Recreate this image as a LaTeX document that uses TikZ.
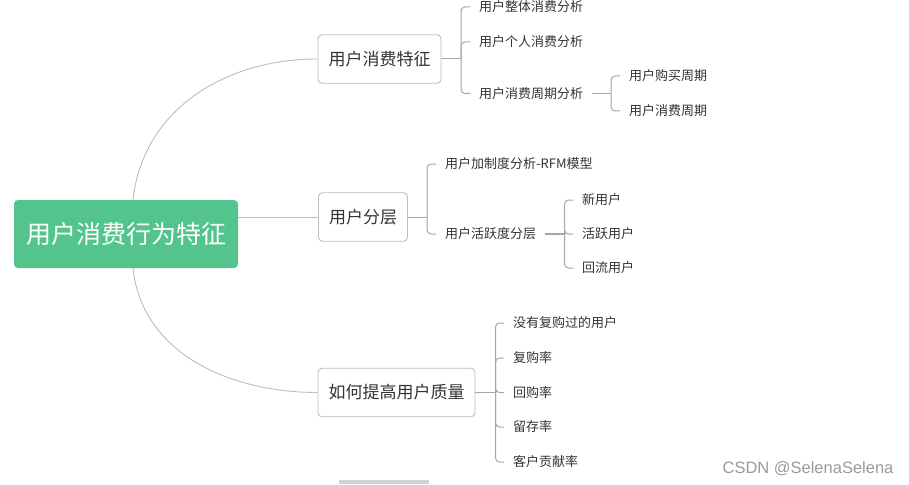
\documentclass[tikz,border=0pt]{standalone}
\usepackage{fontspec}
\setmainfont{Noto Sans CJK SC}
\newfontfamily\markfont{Liberation Sans}
\usetikzlibrary{calc}
\definecolor{rootgreen}{HTML}{52C48C}
\definecolor{boxline}{HTML}{BDBDBD}
\definecolor{linkgray}{HTML}{A6A6A6}
\definecolor{txtgray}{HTML}{333333}
\definecolor{markgray}{HTML}{9A9A9A}

\begin{document}
\begin{tikzpicture}[
    x=1pt, y=-1pt,
    every node/.style={text=txtgray},
    root/.style={rectangle, fill=rootgreen, rounded corners=4pt, text=white, font=\fontsize{25}{30}\selectfont, minimum width=224pt, minimum height=68pt, inner sep=0pt},
    topic/.style={rectangle, draw=boxline, line width=0.9pt, rounded corners=4pt, font=\fontsize{17}{20}\selectfont, minimum height=48.5pt, inner xsep=10.5pt},
    leaf/.style={anchor=west, font=\fontsize{13}{15}\selectfont, inner xsep=9pt, inner ysep=1pt},
    trunk/.style={draw=boxline, line width=0.9pt},
    link/.style={draw=linkgray, line width=1pt, rounded corners=4pt},
    thick link/.style={link, line width=1.6pt}
  ]
  \useasboundingbox (0,0) rectangle (909,484);

  % main topics
  \node[root] (root) at (126,234) {用户消费行为特征};
  \node[topic] (b1) at (379.5,59) {用户消费特征};
  \node[topic] (b2) at (363,217) {用户分层};
  \node[topic] (b3) at (396.5,392.5) {如何提高用户质量};

  \draw[trunk] ([xshift=7pt]root.north) .. controls +(10,-90) and +(-93,0) .. (b1.west);
  \draw[trunk] (b2.west -| root.east) -- (b2.west);
  \draw[trunk] ([xshift=7pt]root.south) .. controls +(9,85) and +(-88,0) .. (b3.west);

  % consumption features
  \coordinate (j1) at (461,59);
  \node[leaf] (c11) at (470,7) {用户整体消费分析};
  \node[leaf] (c12) at (470,42) {用户个人消费分析};
  \node[leaf] (c13) at (470,93.5) {用户消费周期分析};
  \draw[link] (b1.east) -- (j1);
  \foreach \c in {c11,c12,c13}
    \draw[link] (j1) |- (\c.west);

  \coordinate (j13) at (611,93.5);
  \node[leaf] (c131) at (620,76) {用户购买周期};
  \node[leaf] (c132) at (620,111) {用户消费周期};
  \draw[link] (c13.east) -- (j13);
  \foreach \c in {c131,c132}
    \draw[link] (j13) |- (\c.west);

  % user layers
  \coordinate (j2) at (427,217);
  \node[leaf] (c21) at (436,164) {用户加制度分析-RFM模型};
  \node[leaf] (c22) at (436,234) {用户活跃度分层};
  \draw[link] (b2.east) -- (j2);
  \foreach \c in {c21,c22}
    \draw[link] (j2) |- (\c.west);

  \coordinate (j22) at (564.5,234);
  \node[leaf] (c221) at (573,200) {新用户};
  \node[leaf] (c222) at (573,234) {活跃用户};
  \node[leaf] (c223) at (573,268) {回流用户};
  \draw[thick link] (c22.east) -- (j22);
  \foreach \c in {c221,c222,c223}
    \draw[link] (j22) |- (\c.west);

  % user quality
  \coordinate (j3) at (495.5,392.5);
  \node[leaf] (c31) at (504,323) {没有复购过的用户};
  \node[leaf] (c32) at (504,358) {复购率};
  \node[leaf] (c33) at (504,392.5) {回购率};
  \node[leaf] (c34) at (504,427) {留存率};
  \node[leaf] (c35) at (504,462) {客户贡献率};
  \draw[thick link] (b3.east) -- (j3);
  \foreach \c in {c31,c32,c33,c34,c35}
    \draw[link] (j3) |- (\c.west);

  % watermark and scroll bar
  \node[font=\markfont\fontsize{16.5}{18}\selectfont, text=markgray] (mark) at (808,468.5) {CSDN @SelenaSelena};
  \fill[gray!35] (339,480) rectangle (429,484);
\end{tikzpicture}
\end{document}
